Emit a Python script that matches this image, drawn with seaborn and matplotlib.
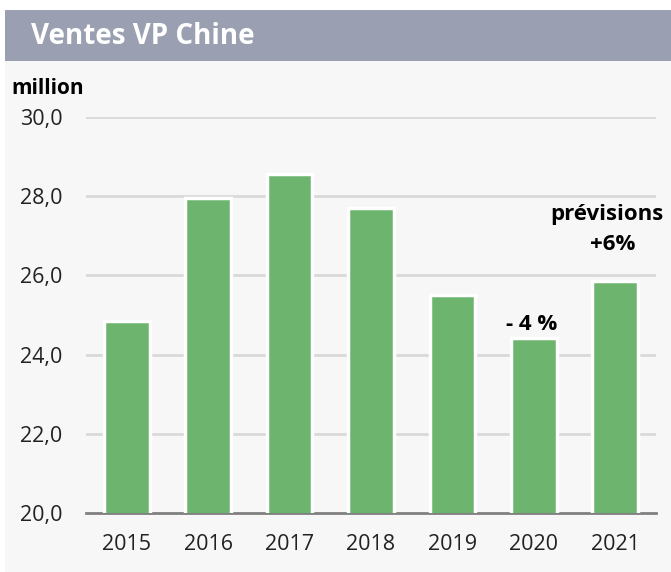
import matplotlib
matplotlib.use("Agg")
import matplotlib.pyplot as plt
import seaborn as sns
import pandas as pd
from matplotlib.patches import Rectangle

years = ["2015", "2016", "2017", "2018", "2019", "2020", "2021"]
sales = [24.85, 27.95, 28.57, 27.7, 25.5, 24.42, 25.85]
yticks = [20, 22, 24, 26, 28, 30]
ytick_labels = ["20,0", "22,0", "24,0", "26,0", "28,0", "30,0"]

sns.set_theme(style="white")
plt.rcParams["font.family"] = ["Open Sans", "DejaVu Sans"]

df = pd.DataFrame({"year": years, "sales": sales})

fig = plt.figure(figsize=(6.71, 5.72), dpi=100)
fig.patch.set_facecolor("white")
# light panel background + title bar
fig.patches.append(Rectangle((5 / 671, 0), 1, 1 - 61 / 572, transform=fig.transFigure,
                             facecolor="#f7f7f7", edgecolor="none", zorder=-2))
fig.patches.append(Rectangle((5 / 671, 1 - 61 / 572), 1, 51 / 572, transform=fig.transFigure,
                             facecolor="#9aa0b1", edgecolor="none", zorder=-1))
fig.text(31 / 671, 1 - 36 / 572, "Ventes VP Chine", color="white", fontsize=20,
         fontweight="bold", va="center", ha="left")
fig.text(11 / 671, 1 - 88 / 572, "million", color="black", fontsize=15,
         fontweight="bold", va="center", ha="left")

ax = fig.add_axes([86 / 671, 59 / 572, 570 / 671, 396 / 572])
ax.set_facecolor("none")
sns.barplot(data=df, x="year", y="sales", color="#6db56f", saturation=1,
            width=0.56, edgecolor="white", linewidth=2.5, ax=ax, zorder=3)

ax.set_ylim(20, 30)
ax.set_yticks(yticks)
ax.set_yticklabels(ytick_labels)
ax.set_xlabel("")
ax.set_ylabel("")
for y in yticks[1:]:
    ax.axhline(y, color="#d9d9d9", lw=2, zorder=1)
for side in ["top", "right", "left"]:
    ax.spines[side].set_visible(False)
ax.spines["bottom"].set_color("#808080")
ax.spines["bottom"].set_linewidth(2)
ax.tick_params(axis="both", length=0, labelsize=15.5, colors="#222222")
ax.tick_params(axis="x", pad=15)
ax.tick_params(axis="y", pad=17)
ax.set_xlim(-0.5, 6.5)

ax.text(4.97, 24.75, "- 4 %", ha="center", va="center", fontsize=16,
        fontweight="bold", color="black")
ax.text(5.9, 27.55, "prévisions", ha="center", va="center",
        fontsize=16, fontweight="bold", color="black")
ax.text(5.97, 26.77, "+6%", ha="center", va="center",
        fontsize=16, fontweight="bold", color="black")

fig.savefig("out.png", dpi=100)
